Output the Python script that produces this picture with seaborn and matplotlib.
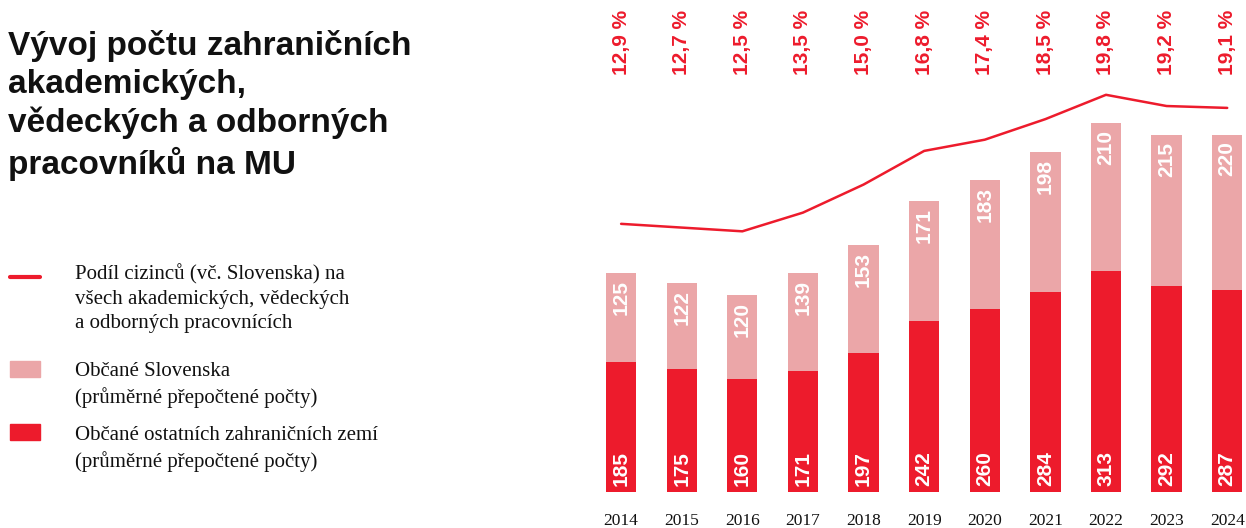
import matplotlib
matplotlib.use('Agg')
import matplotlib.pyplot as plt
import seaborn as sns
from matplotlib.lines import Line2D
from matplotlib.patches import Rectangle

# data
years = ['2014', '2015', '2016', '2017', '2018', '2019', '2020', '2021', '2022', '2023', '2024']
others = [185, 175, 160, 171, 197, 242, 260, 284, 313, 292, 287]
slovaks = [125, 122, 120, 139, 153, 171, 183, 198, 210, 215, 220]
share = [12.9, 12.7, 12.5, 13.5, 15.0, 16.8, 17.4, 18.5, 19.8, 19.2, 19.1]
share_labels = ['12,9 %', '12,7 %', '12,5 %', '13,5 %', '15,0 %', '16,8 %',
                '17,4 %', '18,5 %', '19,8 %', '19,2 %', '19,1 %']

red = '#ED1B2C'
pink = '#EBA6A8'
totals = [a + b for a, b in zip(others, slovaks)]

sns.set_style('white')
plt.rcParams['font.family'] = ['Liberation Sans', 'DejaVu Sans']

fig = plt.figure(figsize=(12.46, 5.28), dpi=100)
ax = fig.add_axes([0.48, 36 / 528, 0.52, 1 - 36 / 528])

# stacked bars: total (pink) behind, others (red) on top
sns.barplot(x=years, y=totals, color=pink, width=0.5, saturation=1, linewidth=0, ax=ax)
sns.barplot(x=years, y=others, color=red, width=0.5, saturation=1, linewidth=0, ax=ax)
ax.set_xlim(-0.38, 10.31)
ax.set_ylim(0, 698)
ax.set_yticks([])
ax.set_xlabel('')
ax.set_ylabel('')
sns.despine(ax=ax, left=True, bottom=True)
ax.tick_params(axis='x', length=0, pad=15)
for lbl in ax.get_xticklabels():
    lbl.set_fontfamily('Liberation Serif')
    lbl.set_fontsize(12.5)
    lbl.set_color('#111111')

# value labels inside bars
for i in range(len(years)):
    ax.annotate(str(others[i]), (i, 0), xytext=(0, 4), textcoords='offset points',
                rotation=90, ha='center', va='bottom', color='white',
                fontsize=15, fontweight='bold')
    ax.annotate(str(slovaks[i]), (i, totals[i]), xytext=(0, -5), textcoords='offset points',
                rotation=90, ha='center', va='top', color='white',
                fontsize=15, fontweight='bold')
    ax.text(i, 1 - 75 / 492, share_labels[i], transform=ax.get_xaxis_transform(),
            rotation=90, ha='center', va='bottom', color=red,
            fontsize=15, fontweight='bold')

# share line on its own scale
ax2 = ax.twinx()
sns.lineplot(x=list(range(len(years))), y=share, color=red, linewidth=1.8, ax=ax2)
ax2.set_ylim(-1.44, 24.87)
ax2.set_yticks([])
ax2.set_ylabel('')
sns.despine(ax=ax2, left=True, bottom=True, right=True)

# title
fig.text(8 / 1246, 1 - 30 / 528,
         'Vývoj počtu zahraničních\nakademických,\nvědeckých a odborných\npracovníků na MU',
         ha='left', va='top', fontsize=24, fontweight='bold', color='#111111',
         linespacing=1.28)

# legend drawn by hand
W, H = 1246, 528
fig.add_artist(Line2D([10 / W, 40 / W], [1 - 277 / H, 1 - 277 / H], color=red,
                      linewidth=3, transform=fig.transFigure))
fig.add_artist(Rectangle((10 / W, 1 - 377 / H), 30 / W, 16 / H, color=pink,
                         transform=fig.transFigure))
fig.add_artist(Rectangle((10 / W, 1 - 440 / H), 30 / W, 16 / H, color=red,
                         transform=fig.transFigure))
legend_texts = [
    (264, 'Podíl cizinců (vč. Slovenska) na\nvšech akademických, vědeckých\na odborných pracovnících'),
    (362, 'Občané Slovenska\n(průměrné přepočtené počty)'),
    (426, 'Občané ostatních zahraničních zemí\n(průměrné přepočtené počty)'),
]
for ytop, txt in legend_texts:
    fig.text(75 / W, 1 - ytop / H, txt, ha='left', va='top', fontsize=15,
             fontfamily='Liberation Serif', color='#111111', linespacing=1.37)

fig.savefig('out.png', dpi=100)
